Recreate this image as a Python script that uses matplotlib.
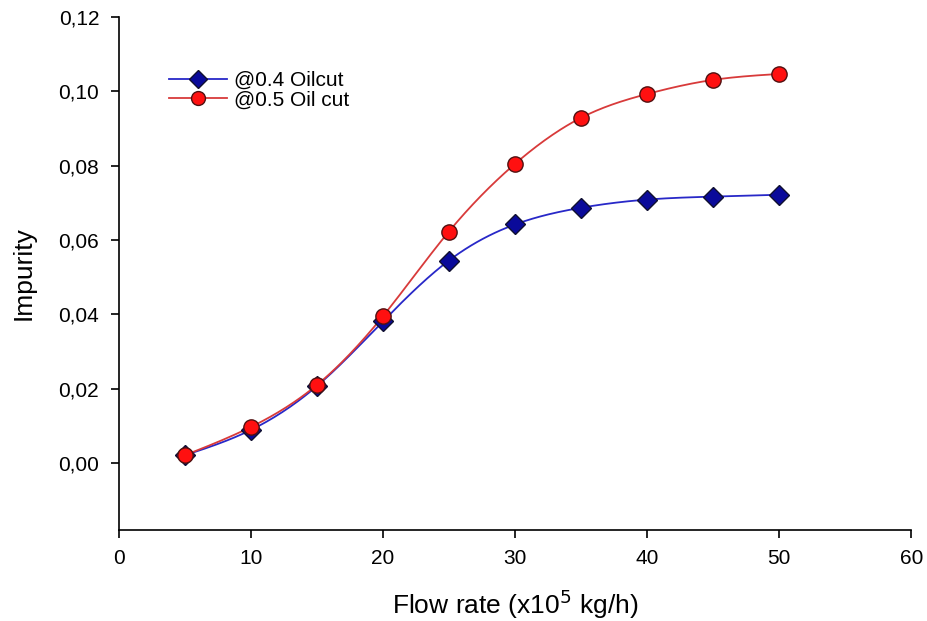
import numpy as np
import matplotlib
matplotlib.use('Agg')
import matplotlib.pyplot as plt
from matplotlib.ticker import FuncFormatter

plt.rcParams['font.family'] = ['Liberation Sans', 'DejaVu Sans']

flow = [5, 10, 15, 20, 25, 30, 35, 40, 45, 50]
imp_04 = [0.0021, 0.0089, 0.0207, 0.0381, 0.0545, 0.0642, 0.0687, 0.0709, 0.0717, 0.0722]
imp_05 = [0.0021, 0.0097, 0.0210, 0.0395, 0.0623, 0.0805, 0.0929, 0.0993, 0.1031, 0.1047]


def smooth(x, y, n=300):
    # natural cubic spline through the points, only for drawing the curve
    x = np.asarray(x, float)
    y = np.asarray(y, float)
    k = len(x)
    h = np.diff(x)
    A = np.zeros((k, k))
    b = np.zeros(k)
    A[0, 0] = A[-1, -1] = 1
    for i in range(1, k - 1):
        A[i, i - 1] = h[i - 1]
        A[i, i] = 2 * (h[i - 1] + h[i])
        A[i, i + 1] = h[i]
        b[i] = 3 * ((y[i + 1] - y[i]) / h[i] - (y[i] - y[i - 1]) / h[i - 1])
    c = np.linalg.solve(A, b)
    xs = np.linspace(x[0], x[-1], n)
    idx = np.clip(np.searchsorted(x, xs) - 1, 0, k - 2)
    dx = xs - x[idx]
    hi = h[idx]
    bb = (y[idx + 1] - y[idx]) / hi - hi * (2 * c[idx] + c[idx + 1]) / 3
    dd = (c[idx + 1] - c[idx]) / (3 * hi)
    ys = y[idx] + bb * dx + c[idx] * dx**2 + dd * dx**3
    return xs, ys


fig = plt.figure(figsize=(9.27, 6.21), dpi=100)
ax = fig.add_axes([0.128, 0.1465, 0.855, 0.826])

blue_line = '#2828c8'
red_line = '#d83a3a'
blue_fill, blue_edge = '#0a0a9a', '#101030'
red_fill, red_edge = '#ff1010', '#501010'

xs, ys = smooth(flow, imp_04)
ax.plot(xs, ys, color=blue_line, lw=1.3, zorder=2)
xs, ys = smooth(flow, imp_05)
ax.plot(xs, ys, color=red_line, lw=1.3, zorder=2)

ax.plot(flow, imp_04, linestyle='None', marker='D', markersize=10,
        markerfacecolor=blue_fill, markeredgecolor=blue_edge, markeredgewidth=1, zorder=3)
ax.plot(flow, imp_05, linestyle='None', marker='o', markersize=11,
        markerfacecolor=red_fill, markeredgecolor=red_edge, markeredgewidth=1, zorder=4)

# legend handles
h1, = ax.plot([], [], color=blue_line, lw=1.3, marker='D', markersize=9,
              markerfacecolor=blue_fill, markeredgecolor=blue_edge, label='@0.4 Oilcut')
h2, = ax.plot([], [], color=red_line, lw=1.3, marker='o', markersize=10,
              markerfacecolor=red_fill, markeredgecolor=red_edge, label='@0.5 Oil cut')
ax.legend(handles=[h1, h2], loc='upper left', bbox_to_anchor=(0.05, 0.915),
          frameon=False, fontsize=15, handlelength=2.8, handletextpad=0.35,
          labelspacing=0.02, borderpad=0)

ax.set_xlim(0, 60)
ax.set_ylim(-0.018, 0.12)
ax.set_xticks(range(0, 61, 10))
ax.set_yticks(np.arange(0, 0.121, 0.02))
ax.yaxis.set_major_formatter(FuncFormatter(lambda v, p: f"{v:.2f}".replace('.', ',')))

for s in ['top', 'right']:
    ax.spines[s].set_visible(False)
for s in ['left', 'bottom']:
    ax.spines[s].set_linewidth(1.2)
ax.tick_params(direction='out', length=6, width=1.2, labelsize=15, pad=8)

ax.set_xlabel('Flow rate (x10$^5$ kg/h)', fontsize=19, labelpad=14)
ax.set_ylabel('Impurity', fontsize=19, labelpad=16)

fig.savefig('out.png', dpi=100)
